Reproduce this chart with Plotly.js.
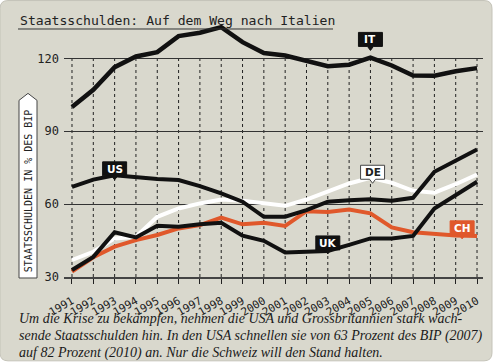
<!DOCTYPE html>
<html>
<head>
<meta charset="utf-8">
<script src="https://cdn.plot.ly/plotly-3.0.1.min.js"></script>
<style>html,body{margin:0;padding:0;background:#fff;}#chart{width:495px;height:364px;}</style>
</head>
<body>
<div id="chart"></div>
<script>
const years = [1991,1992,1993,1994,1995,1996,1997,1998,1999,2000,2001,2002,2003,2004,2005,2006,2007,2008,2009,2010];
const it = [100.0,107.1,116.4,120.8,122.6,129.2,130.6,132.9,126.7,122.2,121.2,119.2,116.8,117.4,120.3,117.1,113.0,112.9,114.7,116.0];
const us = [67.1,70.1,71.9,71.0,70.4,69.9,67.4,64.4,61.0,54.8,54.8,57.5,61.0,61.6,62.0,61.4,62.6,73.3,78.1,82.5];
const de = [37.0,40.4,45.9,46.6,54.8,58.2,60.3,61.9,61.4,60.3,59.3,61.9,65.1,68.5,70.8,68.8,65.5,64.7,68.2,72.2];
const uk = [32.9,38.3,48.4,46.3,51.1,50.7,51.7,52.3,47.0,44.9,40.1,40.4,40.7,43.2,45.9,45.9,46.9,58.2,63.7,69.2];
const ch = [32.2,38.1,42.5,45.2,47.3,50.0,51.4,54.5,51.7,52.3,51.0,57.1,56.8,57.8,56.2,50.4,48.4,47.7,47.1,46.9];
const yTicks = [30,60,90,120];
const titleText = 'Staatsschulden: Auf dem Weg nach Italien';
const yTitle = 'STAATSSCHULDEN IN % DES BIP';
const caption = [
  'Um die Krise zu bekämpfen, nehmen die USA und Grossbritannien stark wach-',
  'sende Staatsschulden hin. In den USA schnellen sie von 63 Prozent des BIP (2007)',
  'auf 82 Prozent (2010) an. Nur die Schweiz will den Stand halten.'
];
// tag labels: [text, year, tip value]
const tags = [['IT',2005,123.3],['US',1993,70.0],['DE',2005.1,68.6],['UK',2003,39.5],['CH',2009.3,45.7]];

const W=495,H=364,L=64,R=12,T=21.5,B=87;
const pw=W-L-R, ph=H-T-B;
const px=p=>(p-L)/pw, py=p=>1-(p-T)/ph;

const BLACK='#111111', ORANGE='#e0582b', WHITE='#ffffff';
const mono='DejaVu Sans Mono, Liberation Mono, monospace';

function line(y,color,w){return {x:years,y:y,type:'scatter',mode:'lines',line:{color:color,width:w},hoverinfo:'skip',showlegend:false};}
const data=[line(de,WHITE,4),line(ch,ORANGE,4),line(uk,BLACK,4),line(us,BLACK,4),line(it,BLACK,4.5)];

function rr(x0,y0,x1,y1,r){
  const X=px,Y=py;
  return `M ${X(x0+r)} ${Y(y0)} L ${X(x1-r)} ${Y(y0)} Q ${X(x1)} ${Y(y0)} ${X(x1)} ${Y(y0+r)} L ${X(x1)} ${Y(y1-r)} Q ${X(x1)} ${Y(y1)} ${X(x1-r)} ${Y(y1)} L ${X(x0+r)} ${Y(y1)} Q ${X(x0)} ${Y(y1)} ${X(x0)} ${Y(y1-r)} L ${X(x0)} ${Y(y0+r)} Q ${X(x0)} ${Y(y0)} ${X(x0+r)} ${Y(y0)} Z`;
}
const shapes=[];
shapes.push({type:'path',xref:'paper',yref:'paper',path:rr(0,0,492,361,8),fillcolor:'#d9d8cd',line:{color:'#c4c3b8',width:1},layer:'below'});
years.forEach(yr=>{
  shapes.push({type:'line',xref:'x',yref:'y',x0:yr,x1:yr,y0:30,y1:120,line:{color:'#222',width:1,dash:'3px,3px'},layer:'below'});
});
shapes.push({type:'line',xref:'paper',yref:'paper',x0:px(18),x1:px(333),y0:py(28.5),y1:py(28.5),line:{color:'#333',width:1}});
shapes.push({type:'path',xref:'paper',yref:'paper',
  path:`M ${px(19)} ${py(100)} L ${px(28)} ${py(93)} L ${px(37)} ${py(100)} L ${px(37)} ${py(278)} L ${px(19)} ${py(278)} Z`,
  fillcolor:'#ffffff',line:{color:'#444',width:1}});

const annotations=[];
annotations.push({xref:'paper',yref:'paper',x:px(18),y:py(19.5),xanchor:'left',yanchor:'middle',showarrow:false,text:titleText,font:{family:mono,size:13.1,color:'#222'}});
annotations.push({xref:'paper',yref:'paper',x:px(28),y:py(191),xanchor:'center',yanchor:'middle',showarrow:false,textangle:-90,text:yTitle,font:{family:mono,size:10,color:'#222'}});
caption.forEach((c,i)=>{
  annotations.push({xref:'paper',yref:'paper',x:px(17),y:py(318.5+i*17.3),xanchor:'left',yanchor:'middle',showarrow:false,text:c,font:{family:'Liberation Serif, serif',size:14,color:'#1a1a1a',style:'italic'}});
});
const tagStyle={IT:[BLACK,WHITE,BLACK],US:[BLACK,WHITE,BLACK],DE:[WHITE,'#222','#444'],UK:[BLACK,WHITE,BLACK],CH:[ORANGE,WHITE,ORANGE]};
tags.forEach(([txt,x,tip])=>{
  const [bg,fg,bd]=tagStyle[txt];
  shapes.push({type:'path',xref:'x',yref:'y',xsizemode:'pixel',ysizemode:'pixel',xanchor:x,yanchor:tip,
    path:'M -12 4 L -3 4 L 0 0 L 3 4 L 12 4 L 12 18 L -12 18 Z',fillcolor:bg,line:{color:bd,width:1}});
  annotations.push({x:x,y:tip,xref:'x',yref:'y',showarrow:false,text:'<b>'+txt+'</b>',xanchor:'center',yanchor:'middle',yshift:11,
    font:{family:'DejaVu Sans, sans-serif',size:10.5,color:fg}});
});

const layout={
  width:W,height:H,
  margin:{l:L,r:R,t:T,b:B,pad:0},
  paper_bgcolor:'#ffffff',plot_bgcolor:'rgba(0,0,0,0)',
  showlegend:false,
  xaxis:{range:[1990.625,2010.28],tickvals:years,ticktext:years.map(String),tickangle:-30,
    showgrid:false,zeroline:false,showline:true,linecolor:'#444',linewidth:1.5,
    ticks:'outside',ticklen:5,tickcolor:'#222',tickwidth:1,ticklabelstandoff:7,
    tickfont:{family:mono,size:11,color:'#222'}},
  yaxis:{range:[30,135],tickvals:yTicks,ticktext:yTicks.map(String),showgrid:true,gridcolor:'#333',gridwidth:1,
    zeroline:false,showline:false,ticks:'',tickfont:{family:mono,size:12,color:'#222'},ticklabelstandoff:4},
  shapes:shapes,annotations:annotations
};
Plotly.newPlot('chart',data,layout,{staticPlot:true,displayModeBar:false});
</script>
</body>
</html>
